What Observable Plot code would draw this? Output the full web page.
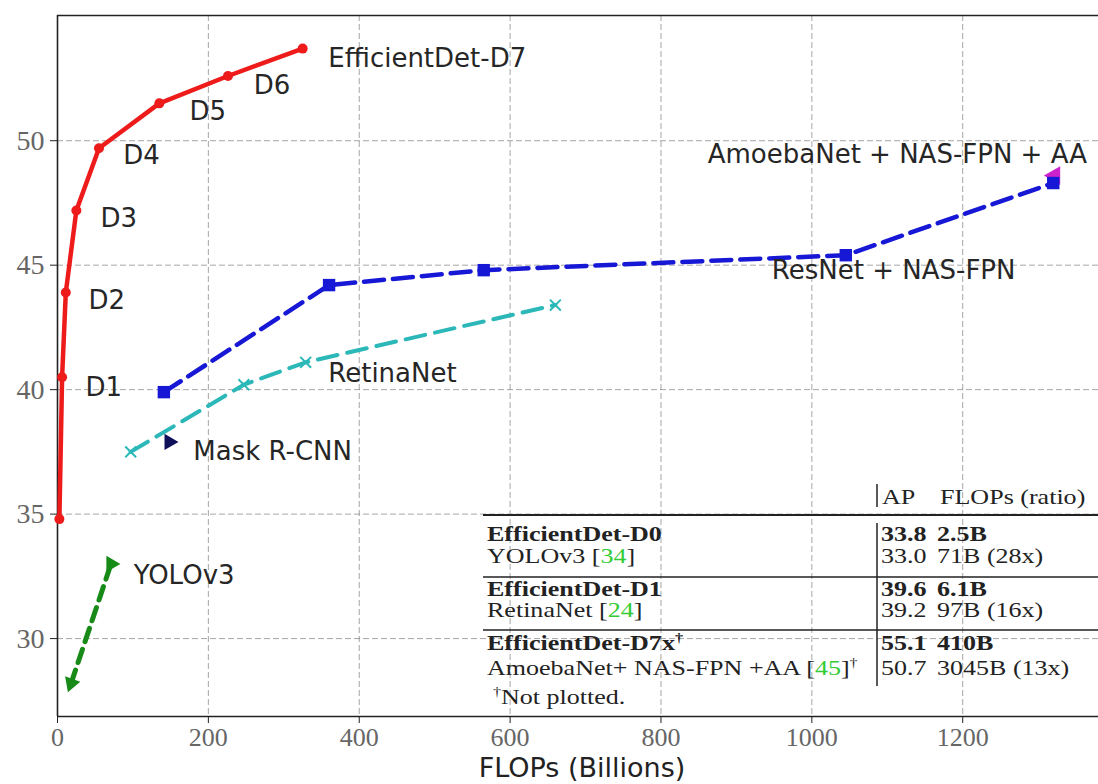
<!DOCTYPE html>
<html><head><meta charset="utf-8">
<script src="https://cdn.jsdelivr.net/npm/d3@7"></script>
<script src="https://cdn.jsdelivr.net/npm/@observablehq/plot@0.6"></script>
<style>body{margin:0;background:#fff;overflow:hidden;} #chart{position:relative;width:1098px;height:784px;}</style>
</head><body><div id="chart"></div>
<script>
// ---- data ----
const effFlops = [2.5, 6.1, 11, 25, 55, 135, 226, 325];
const effAP    = [34.8, 40.5, 43.9, 47.2, 49.7, 51.5, 52.6, 53.7];
const nasFlops = [141, 360, 565, 1045, 1320];
const nasAP    = [39.9, 44.2, 44.8, 45.4, 48.3];
const retinaFlops = [97, 247, 329, 660];
const retinaAP    = [37.5, 40.2, 41.1, 43.4];
const yoloFlops = [18, 71];
const yoloAP    = [28.2, 33.0];
const maskFlops = [148];
const maskAP    = [37.9];
const amoebaFlops = [1322];
const amoebaAP    = [48.6];

const labelText = ["EfficientDet-D7", "D6", "D5", "D4", "D3", "D2", "D1",
  "AmoebaNet + NAS-FPN + AA", "ResNet + NAS-FPN", "RetinaNet", "Mask R-CNN", "YOLOv3"];
const labelX = [359, 260, 175, 87, 57, 41, 37, 862, 947, 359, 180, 101];
const labelY = [53.3, 52.2, 51.15, 49.4, 46.86, 43.57, 40.08, 49.42, 44.77, 40.64, 37.5, 32.54];

const xTicks = [0, 200, 400, 600, 800, 1000, 1200];
const yTicks = [30, 35, 40, 45, 50];
const xDomain = [0, 1380];
const yDomain = [26.87, 55.03];
const xLabel = "FLOPs (Billions)";

const tableHeader = ["AP", "FLOPs (ratio)"];
const tableModels = ["EfficientDet-D0", "YOLOv3", "EfficientDet-D1", "RetinaNet", "EfficientDet-D7x", "AmoebaNet+ NAS-FPN +AA"];
const tableRefs   = [null, "34", null, "24", null, "45"];
const tableDagger = [false, false, false, false, true, true];
const tableAP     = ["33.8", "33.0", "39.6", "39.2", "55.1", "50.7"];
const tableFLOPs  = ["2.5B", "71B (28x)", "6.1B", "97B (16x)", "410B", "3045B (13x)"];
const tableBold   = [true, false, true, false, true, false];
const tableNote   = "Not plotted.";

// ---- build ----
const zip = (xs, ys) => xs.map((x, i) => ({x, y: ys[i]}));
const eff = zip(effFlops, effAP);
const nas = zip(nasFlops, nasAP);
const retina = zip(retinaFlops, retinaAP);
const yolo = zip(yoloFlops, yoloAP);
const mask = zip(maskFlops, maskAP);
const amoeba = zip(amoebaFlops, amoebaAP);
const labels = labelText.map((t, i) => ({text: t, x: labelX[i], y: labelY[i]}));

const RED = "#ee1b1b", BLUE = "#1717d6", CYAN = "#2cb8b8", GREEN = "#178a17";
const GRID = {stroke: "#777", strokeOpacity: 0.65, strokeDasharray: "6,3"};

const chart = Plot.plot({
  width: 1098, height: 784,
  marginLeft: 57, marginRight: 0, marginTop: 15, marginBottom: 68,
  x: {domain: xDomain},
  y: {domain: yDomain},
  style: {background: "white", overflow: "visible"},
  marks: [
    Plot.gridX(xTicks.slice(1), GRID),
    Plot.gridY(yTicks, GRID),
    Plot.ruleX([xDomain[0]], {stroke: "#222", strokeWidth: 1.6}),
    Plot.ruleY(yDomain, {stroke: "#222", strokeWidth: 1.6}),
    Plot.axisX({ticks: xTicks, tickFormat: d => String(d), tickSize: 7, tickPadding: 4, fontSize: 26, fontFamily: "Liberation Serif", stroke: "#222", fill: "#666", label: null}),
    Plot.axisY({ticks: yTicks, tickFormat: d => String(d), tickSize: 7, tickPadding: 6, fontSize: 28, fontFamily: "Liberation Serif", stroke: "#222", fill: "#666", label: null}),
    Plot.text([xLabel], {frameAnchor: "bottom", dx: 4, dy: 60, fontSize: 27, fontFamily: "DejaVu Sans", fill: "#222"}),
    // YOLOv3
    Plot.line(yolo, {x: "x", y: "y", stroke: GREEN, strokeWidth: 5, strokeDasharray: "14,8"}),
    Plot.dot(yolo, {x: "x", y: "y", symbol: "triangle", r: 6, fill: GREEN, rotate: (d, i) => i ? 90 : 200}),
    // RetinaNet
    Plot.line(retina, {x: "x", y: "y", stroke: CYAN, strokeWidth: 4, strokeDasharray: "20,10"}),
    Plot.dot(retina, {x: "x", y: "y", symbol: "times", r: 5, stroke: CYAN, strokeWidth: 2}),
    // Mask R-CNN
    Plot.dot(mask, {x: "x", y: "y", symbol: "triangle", r: 6, fill: "#10105a", rotate: 90}),
    // AmoebaNet
    Plot.dot(amoeba, {x: "x", y: "y", symbol: "triangle", r: 7, fill: "#cc22cc", rotate: 30}),
    // ResNet + NAS-FPN
    Plot.line(nas, {x: "x", y: "y", stroke: BLUE, strokeWidth: 4.5, strokeDasharray: "20,9"}),
    Plot.dot(nas, {x: "x", y: "y", symbol: "square", r: 7, fill: BLUE}),
    // EfficientDet
    Plot.line(eff, {x: "x", y: "y", stroke: RED, strokeWidth: 4.5}),
    Plot.dot(eff, {x: "x", y: "y", r: 5, fill: RED}),
    // labels
    Plot.text(labels, {x: "x", y: "y", text: "text", textAnchor: "start", fontSize: 26, fontFamily: "DejaVu Sans", fill: "#262626"})
  ]
});
document.getElementById("chart").appendChild(chart);

// ---- inset table ----
const svg = d3.select(chart);
const g = svg.append("g")
  .attr("font-family", "Liberation Serif").attr("font-size", 21)
  .attr("fill", "#222").attr("text-anchor", "start");
const SX = 1.24;
function txt(x, y, bold) {
  return g.append("text")
    .attr("transform", `translate(${x},${y}) scale(${SX},1)`)
    .attr("text-anchor", "start")
    .attr("font-weight", bold ? "bold" : "normal");
}
const colL = 487, colAP = 881, colF = 937, vline = 877;
const headerY = 504;
const rowY = [541, 563, 596, 617, 650, 675];
txt(colAP + 1, headerY, false).text(tableHeader[0]);
txt(colF + 3, headerY, false).text(tableHeader[1]);
const rule = (y, w) => g.append("line").attr("x1", 483).attr("x2", 1098).attr("y1", y).attr("y2", y).attr("stroke", "#222").attr("stroke-width", w);
rule(515, 2.2); rule(577, 1.6); rule(630, 1.6);
g.append("line").attr("x1", vline).attr("x2", vline).attr("y1", 484).attr("y2", 507).attr("stroke", "#222").attr("stroke-width", 1.5);
g.append("line").attr("x1", vline).attr("x2", vline).attr("y1", 523).attr("y2", 686).attr("stroke", "#222").attr("stroke-width", 1.5);
tableModels.forEach((m, i) => {
  const t = txt(colL, rowY[i], tableBold[i]);
  if (tableRefs[i]) {
    t.append("tspan").text(m + " [");
    t.append("tspan").attr("fill", "#33cc33").text(tableRefs[i]);
    t.append("tspan").text("]");
  } else {
    t.append("tspan").text(m);
  }
  if (tableDagger[i]) t.append("tspan").attr("font-size", 13).attr("dy", -8).text("†");
  txt(colAP, rowY[i], tableBold[i]).text(tableAP[i]);
  txt(colF, rowY[i], tableBold[i]).text(tableFLOPs[i]);
});
const note = txt(493, 704, false);
note.append("tspan").attr("font-size", 13).attr("dy", -8).text("†");
note.append("tspan").attr("dy", 8).text(tableNote);
</script>
</body></html>
